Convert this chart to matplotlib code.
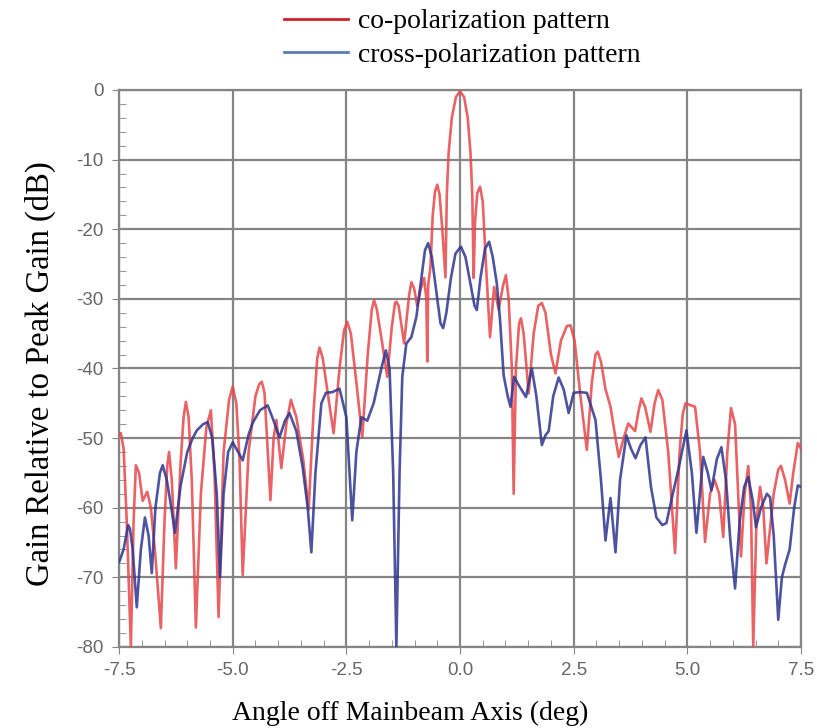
import matplotlib.pyplot as plt
from matplotlib.ticker import MultipleLocator
from matplotlib.lines import Line2D

plt.rcParams['axes.unicode_minus'] = False

# co-polarization pattern (angle in deg, gain in dB)
co_angle = [-7.5, -7.46, -7.4, -7.33, -7.24, -7.18, -7.13, -7.06, -6.98, -6.88, -6.8, -6.7,
            -6.58, -6.5, -6.44, -6.4, -6.34, -6.25, -6.15, -6.08, -6.03, -5.97, -5.9,
            -5.81, -5.7, -5.58, -5.48, -5.4, -5.31, -5.2, -5.08, -5.0, -4.92, -4.85,
            -4.78, -4.65, -4.5, -4.42, -4.36, -4.3, -4.17, -4.1, -4.04, -3.93, -3.82,
            -3.72, -3.6, -3.45, -3.33, -3.22, -3.14, -3.09, -3.02, -2.9, -2.78, -2.65,
            -2.55, -2.48, -2.4, -2.28, -2.15, -2.03, -1.94, -1.89, -1.83, -1.72, -1.6,
            -1.5, -1.43, -1.40, -1.35, -1.23, -1.12, -1.07, -1.01, -0.94, -0.86, -0.79,
            -0.74, -0.72, -0.7, -0.65, -0.6, -0.55, -0.5, -0.45, -0.39, -0.32, -0.29,
            -0.25, -0.18, -0.09, 0.0, 0.09, 0.17, 0.23, 0.27, 0.3, 0.33, 0.38, 0.44,
            0.5, 0.57, 0.66, 0.75, 0.85, 0.95, 1.01, 1.07, 1.14, 1.18, 1.23, 1.3,
            1.34, 1.4, 1.51, 1.62, 1.72, 1.8, 1.88, 2.0, 2.1, 2.22, 2.35, 2.43, 2.52,
            2.65, 2.79, 2.9, 2.98, 3.03, 3.1, 3.2, 3.31, 3.42, 3.49, 3.6, 3.7, 3.85,
            3.93, 3.99, 4.07, 4.19, 4.28, 4.36, 4.45, 4.58, 4.73, 4.83, 4.9, 4.96,
            5.08, 5.17, 5.28, 5.39, 5.5, 5.6, 5.7, 5.79, 5.88, 5.96, 6.05, 6.18, 6.26,
            6.34, 6.4, 6.45, 6.52, 6.6, 6.67, 6.74, 6.9, 7.0, 7.06, 7.15, 7.25, 7.33,
            7.43, 7.5]
co_gain = [-49.5, -49.3, -51.5, -62, -80, -62, -53.9, -55, -59, -57.7, -60, -67,
           -77.3, -62, -54, -52, -56, -68.7, -54, -47, -44.8, -47, -56,
           -77.2, -58, -48.5, -46, -55, -75.7, -52, -44.5, -42.6, -45, -53,
           -69.7, -52, -44, -42.3, -41.9, -43.5, -58.9, -50, -47.4, -54.3, -48,
           -44.5, -47, -53, -60.3, -46, -38.5, -37, -38.5, -44, -49.3, -40,
           -34.5, -33.3, -35, -42, -49.9, -38, -31.5, -30.2, -31.5, -36, -41.2,
           -34, -30.6, -30.4, -31, -36.4, -29.5, -27.6, -28.5, -31, -28.5, -27,
           -30, -39, -28, -25.4, -18, -14.6, -13.6, -15, -20, -26.9, -15,
           -9, -4, -1, -0.2, -1, -4, -9, -15, -27, -19, -14.8, -13.9,
           -16, -25, -35.5, -28.3, -31.5, -28, -26.6, -30, -40, -58, -40, -33.5,
           -32.8, -35, -43.6, -35, -31, -30.6, -32, -38, -40.7, -36, -33.9, -33.8, -36,
           -44, -51.7, -42, -38, -37.6, -39, -43, -45.5, -50, -52.7, -50, -47.9, -49,
           -46, -44.3, -45.5, -49.1, -45, -43.1, -44.5, -52, -66.5, -52, -46.5, -45,
           -45.3, -45.5, -52, -64.9, -58, -56, -58, -64.2, -52, -45.7, -48, -67, -58,
           -54, -60, -80, -62, -57, -60, -68, -58, -54.5, -54, -56, -59.4, -55,
           -50.7, -51.5]

# cross-polarization pattern
x_angle = [-7.5, -7.48, -7.4, -7.3, -7.26, -7.2, -7.11, -7.02, -6.93, -6.85, -6.78, -6.7,
           -6.6, -6.54, -6.45, -6.35, -6.27, -6.15, -6.0, -5.88, -5.79, -5.65, -5.55,
           -5.45, -5.35, -5.28, -5.2, -5.1, -5.0, -4.88, -4.78, -4.65, -4.56, -4.4,
           -4.23, -4.1, -3.97, -3.85, -3.75, -3.6, -3.46, -3.35, -3.27, -3.18, -3.05,
           -2.95, -2.81, -2.65, -2.5, -2.37, -2.28, -2.17, -2.04, -1.9, -1.73, -1.63,
           -1.55, -1.47, -1.40, -1.33, -1.27, -1.18, -1.07, -0.96, -0.85, -0.77, -0.70,
           -0.62, -0.52, -0.43, -0.37, -0.3, -0.2, -0.1, 0.02, 0.12, 0.22, 0.32, 0.37,
           0.45, 0.55, 0.64, 0.72, 0.81, 0.88, 0.96, 1.05, 1.11, 1.19, 1.3, 1.45,
           1.58, 1.68, 1.8, 1.88, 1.95, 2.05, 2.17, 2.28, 2.39, 2.5, 2.65, 2.79, 2.98,
           3.1, 3.2, 3.31, 3.42, 3.52, 3.66, 3.76, 3.86, 3.97, 4.08, 4.2, 4.32, 4.45,
           4.54, 4.68, 4.8, 4.98, 5.1, 5.2, 5.35, 5.45, 5.53, 5.65, 5.75, 5.85, 5.95,
           6.05, 6.15, 6.25, 6.34, 6.44, 6.51, 6.62, 6.75, 6.82, 6.9, 7.0, 7.08, 7.15,
           7.25, 7.35, 7.43, 7.5]
x_gain = [-67.8, -67.5, -66, -62.5, -63, -66, -74.3, -66, -61.4, -64, -69.4, -60,
          -55, -53.9, -56, -60, -63.6, -57, -52, -50, -48.9, -48, -47.7,
          -50, -58, -70, -58, -52, -50.6, -52, -53.2, -49.5, -47.8, -46,
          -45.3, -47.5, -49.9, -47.5, -46.4, -49, -54.2, -60, -66.4, -55, -45,
          -43.5, -43.4, -42.9, -47, -61.8, -52, -47, -47.5, -45, -40, -37.4,
          -40, -55, -80, -55, -41.2, -36.4, -35.5, -32.6, -27, -23, -22,
          -24, -29, -33.5, -34.2, -32, -27, -23.5, -22.5, -24, -27.5, -31, -31.6,
          -27, -22.8, -21.8, -24, -27.8, -33, -41, -44, -45.5, -41.2, -42.5, -44.1,
          -40, -44, -51, -49.6, -49, -44, -41.3, -43, -46.4, -43.5, -43.4, -43.5, -47.4,
          -56, -64.7, -58.6, -66.4, -56, -49.6, -51.5, -52.9, -51, -49.9, -57, -61.4, -62.5,
          -62.2, -58, -54.6, -48.9, -55, -63.6, -52.7, -55, -57.5, -53, -51.3, -56, -65,
          -71.6, -62, -57, -55.6, -59, -62.8, -60, -58, -58.5, -64, -76.1, -70, -68.2,
          -66, -60, -56.8, -57]

x_ticks = [-7.5, -5.0, -2.5, 0.0, 2.5, 5.0, 7.5]
y_ticks = [0, -10, -20, -30, -40, -50, -60, -70, -80]

fig = plt.figure(figsize=(8.17, 7.28), dpi=100)
ax = fig.add_axes([0.1457, 0.1113, 0.8347, 0.7651])

ax.plot(co_angle, co_gain, color='#e6474a', lw=1.9, alpha=0.85, zorder=3)
ax.plot(x_angle, x_gain, color='#2f3590', lw=1.9, alpha=0.85, zorder=4)

ax.set_xlim(-7.5, 7.5)
ax.set_ylim(-80, 0)
ax.set_xticks(x_ticks)
ax.set_yticks(y_ticks)
ax.set_xticklabels(['%.1f' % v for v in x_ticks])
ax.xaxis.set_minor_locator(MultipleLocator(0.5))
ax.yaxis.set_minor_locator(MultipleLocator(2))
ax.grid(True, which='major', color='#858585', lw=1.6)
ax.set_axisbelow(True)
for s in ax.spines.values():
    s.set_color('#858585')
    s.set_linewidth(1.6)
ax.tick_params(which='major', direction='out', length=5, color='#858585',
               labelsize=13.5, labelcolor='#666666', pad=6)
ax.tick_params(which='minor', direction='in', length=5, color='#858585')
for lab in ax.get_xticklabels() + ax.get_yticklabels():
    lab.set_family('Liberation Sans')

ax.set_xlabel('Angle off Mainbeam Axis (deg)', family='Liberation Serif', fontsize=20)
ax.xaxis.set_label_coords(0.427, -0.096)
ax.set_ylabel('Gain Relative to Peak Gain (dB)', family='Liberation Serif', fontsize=23.5)
ax.yaxis.set_label_coords(-0.092, 0.49)

handles = [Line2D([], [], color='#d0202a', lw=2),
           Line2D([], [], color='#5a7db5', lw=2)]
fig.legend(handles, ['co-polarization pattern', 'cross-polarization pattern'],
           loc='upper left', bbox_to_anchor=(0.317, 1.022), frameon=False,
           prop={'family': 'Liberation Serif', 'size': 20},
           handlelength=2.3, handletextpad=0.36, labelspacing=0.3)

fig.savefig('out.png', dpi=100)
